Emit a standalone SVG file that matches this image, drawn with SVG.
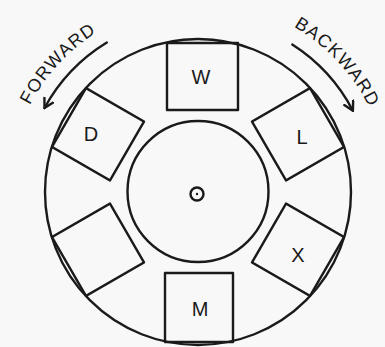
<svg xmlns="http://www.w3.org/2000/svg" width="385" height="347" viewBox="0 0 385 347">
<defs>
<style>
.ln{fill:none;stroke:#1a1a1a;stroke-width:2.4;stroke-linecap:round;stroke-linejoin:round}
.bx{fill:none;stroke:#1a1a1a;stroke-width:2.4;stroke-linejoin:round}
.lb{font-family:"Liberation Sans",Arial,sans-serif;font-size:20px;fill:#1a1a1a;text-anchor:middle}
.dir{font-family:"Liberation Sans",Arial,sans-serif;font-size:18px;fill:#1a1a1a;letter-spacing:1.2px}
</style>
<marker id="ah" markerWidth="14" markerHeight="14" refX="10" refY="6" orient="auto" markerUnits="userSpaceOnUse">
<path d="M1,1 L10,6 L1,11" fill="none" stroke="#1a1a1a" stroke-width="2.4" stroke-linecap="round" stroke-linejoin="round"/>
</marker>
<path id="pf" d="M15.3,143 A189,189 0 0 1 133.4,14.4"/>
<path id="pb" d="M263.3,12.5 A191,191 0 0 1 381.6,139.4"/>
</defs>
<rect width="385" height="347" fill="#f8f8f8"/>
<g id="wheel">
<circle class="ln" cx="198" cy="192" r="153"/>
<circle class="ln" cx="198" cy="191.5" r="70.5"/>
<circle class="ln" cx="197" cy="194" r="6.5"/>
<circle cx="197" cy="194" r="1.2" fill="#1a1a1a"/>
</g>
<g id="box-W"><rect class="bx" x="167" y="43" width="71" height="67"/><text class="lb" x="201" y="84">W</text></g>
<g id="box-L"><rect class="bx" x="164" y="43" width="68" height="67" transform="rotate(60 198 192)"/><text class="lb" x="302" y="144">L</text></g>
<g id="box-X"><rect class="bx" x="164" y="43" width="68" height="67" transform="rotate(120 198 192)"/><text class="lb" x="298" y="262">X</text></g>
<g id="box-M"><rect class="bx" x="165" y="273" width="68" height="69"/><text class="lb" x="200" y="316">M</text></g>
<g id="box-blank"><rect class="bx" x="164" y="43" width="68" height="67" transform="rotate(240 198 192)"/></g>
<g id="box-D"><rect class="bx" x="164" y="43" width="68" height="67" transform="rotate(300 198 192)"/><text class="lb" x="91" y="141">D</text></g>
<g id="connectors">
<path class="ln" d="M106.8,42.6 A175,175 0 0 0 44.5,108" marker-end="url(#ah)"/>
<path class="ln" d="M292.3,44.6 A175,175 0 0 1 352.9,110.7" marker-end="url(#ah)"/>
</g>
<g id="labels">
<text class="dir"><textPath href="#pf" startOffset="50%" text-anchor="middle">FORWARD</textPath></text>
<text class="dir"><textPath href="#pb" startOffset="50%" text-anchor="middle">BACKWARD</textPath></text>
</g>
</svg>
